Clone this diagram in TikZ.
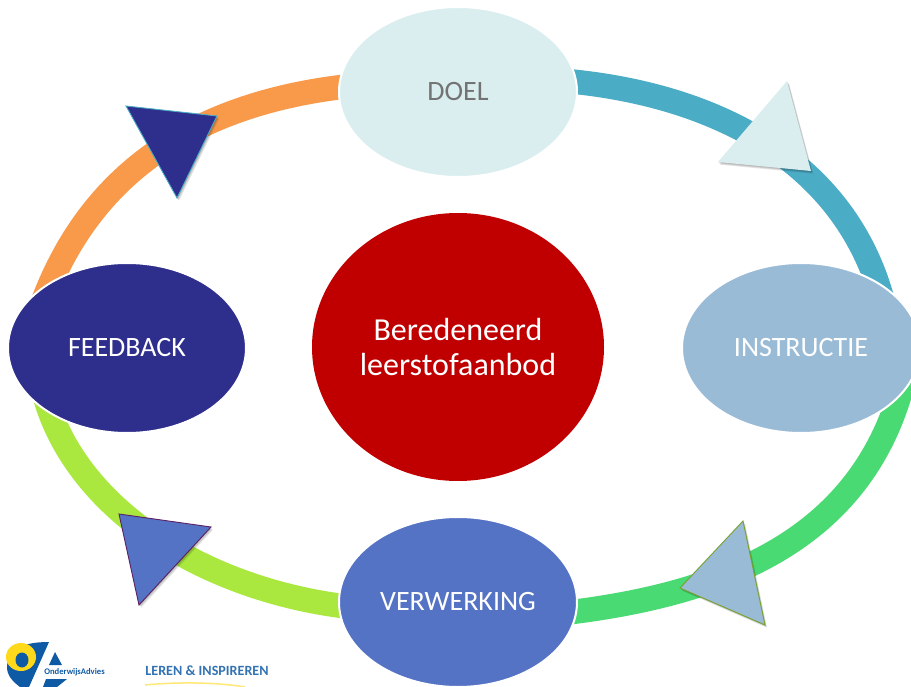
\documentclass[tikz,border=0pt]{standalone}
\usepackage{fontspec}
\setmainfont{Carlito}
\usetikzlibrary{shapes.geometric}
\definecolor{cOrange}{HTML}{F99A4B}
\definecolor{cTeal}{HTML}{4BACC6}
\definecolor{cGreen}{HTML}{4ADA73}
\definecolor{cLime}{HTML}{AAE83F}
\definecolor{cPale}{HTML}{DAEEF0}
\definecolor{cSky}{HTML}{9ABBD6}
\definecolor{cPeri}{HTML}{5573C4}
\definecolor{cNavy}{HTML}{2E2E8C}
\definecolor{cRed}{HTML}{C00000}
\definecolor{cLogo}{HTML}{0F5AA5}
\definecolor{cLogoY}{HTML}{FFD91A}
\tikzset{
  x=1pt,y=-1pt,
  ring/.style={line width=24.5pt,line cap=butt},
  blob/.style={ellipse,draw=white,line width=2pt,inner sep=0pt,minimum width=238pt,minimum height=170pt,align=center,font=\fontsize{28}{32}\selectfont,text=white},
  tri/.style={line width=0.9pt,line join=miter},
  trishadow/.style={fill=black,draw=none,opacity=0.10},
}
\newcommand{\shadowtri}[3]{%
  \foreach \d in {1,2,3}{\fill[trishadow,shift={(\d*0.7pt,-\d*0.9pt)}] #1 -- #2 -- #3 -- cycle;}}
\begin{document}
\begin{tikzpicture}
\useasboundingbox (0,0) rectangle (911,687);
\fill[white] (0,0) rectangle (911,687);
\begin{scope}
\clip (0,0) rectangle (911,687);
\draw[ring,cOrange] (40,310) .. controls (89,170) and (200,100) .. (360,85);
\draw[ring,cTeal] (555,80) .. controls (715,92) and (850,162) .. (885,310);
\draw[ring,cGreen] (910,350) .. controls (880,530) and (740,594) .. (555,614);
\draw[ring,cLime] (42,385) .. controls (70,510) and (210,594) .. (360,608);

\node[blob,fill=cPale,text=black!55] (doel) at (458,92) {DOEL};
\node[blob,fill=cSky] (instr) at (801,348) {INSTRUCTIE};
\node[blob,fill=cPeri] (verw) at (458,602) {VERWERKING};
\node[blob,fill=cNavy] (feed) at (127,348) {FEEDBACK};
\node[ellipse,fill=cRed,minimum width=292pt,minimum height=268pt,inner sep=0pt,align=center,text=white,font=\fontsize{32}{35}\selectfont] (mid) at (458,347) {Beredeneerd\\leerstofaanbod};

\shadowtri{(787,81)}{(811,171)}{(718,162)}
\fill[cPale] (787,81) -- (811,171) -- (718,162) -- cycle;
\shadowtri{(743,521)}{(765,625)}{(680,588)}
\filldraw[tri,fill=cSky,draw=cLime!70!black] (743,521) -- (765,625) -- (680,588) -- cycle;
\shadowtri{(119,514)}{(211,527)}{(139,605)}
\filldraw[tri,fill=cPeri,draw=cNavy!70!cRed] (119,514) -- (211,527) -- (139,605) -- cycle;
\shadowtri{(126,106)}{(217,116)}{(177,198)}
\filldraw[tri,fill=cNavy,draw=cTeal] (126,106) -- (217,116) -- (177,198) -- cycle;

% logos
\fill[cLogo] (7,667) .. controls (7,652) and (18,642) .. (49,642) -- (29,687) -- (20,687) .. controls (12,681) and (7,675) .. (7,667) -- cycle;
\fill[cLogoY] (21,657) ellipse[x radius=15,y radius=14];
\fill[cLogo] (22,660) ellipse[x radius=6.5,y radius=7.5];
\fill[cLogo] (55,652) -- (62,665) -- (49,665) -- cycle;
\fill[cLogo] (46,679) -- (67,679) -- (57,687) -- (43,687) -- cycle;
\node[font=\bfseries\fontsize{8.6}{10}\selectfont,text=cLogo,inner sep=0pt] (oa) at (74.5,672) {OnderwijsAdvies};
\node[font=\bfseries\fontsize{14.1}{16}\selectfont,text=cLogo!85,inner sep=0pt] (li) at (207,671) {LEREN \& INSPIREREN};
\draw[cLogoY!60,line width=1.5pt] (145,685) .. controls (175,682) and (215,682) .. (245,687);
\end{scope}
\end{tikzpicture}
\end{document}
